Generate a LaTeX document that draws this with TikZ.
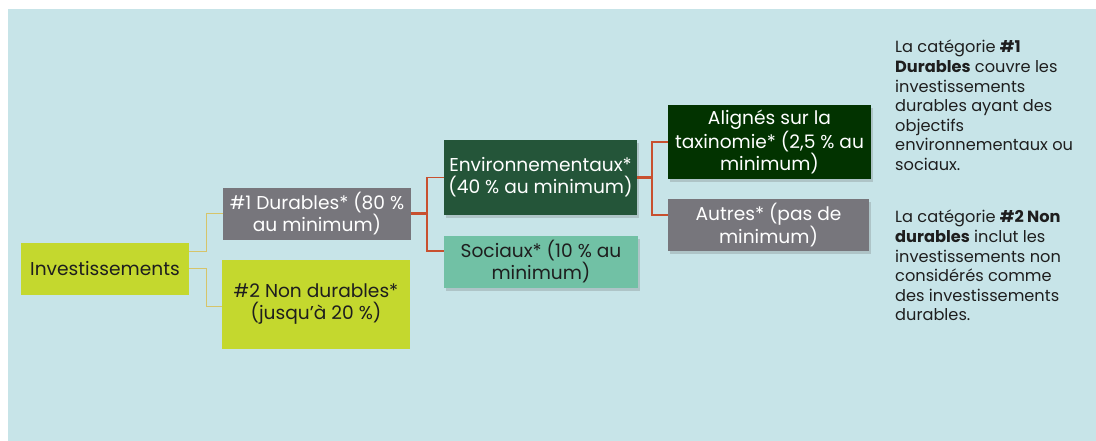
\documentclass[tikz,border=0pt]{standalone}
\usepackage{fontspec}
\setmainfont{Poppins}
\usetikzlibrary{positioning,shadows}
\definecolor{bgblue}{HTML}{C7E4E8}
\definecolor{lime}{HTML}{C4D82E}
\definecolor{greybox}{HTML}{77767C}
\definecolor{envgreen}{HTML}{245539}
\definecolor{socgreen}{HTML}{71C1A5}
\definecolor{taxgreen}{HTML}{023300}
\definecolor{linkred}{HTML}{C8502F}
\definecolor{linktan}{HTML}{D6C46A}
\definecolor{inkdark}{HTML}{1E1E1E}
\tikzset{
	box/.style={rectangle, inner sep=1pt, align=center, font=\fontsize{18.6}{22}\selectfont},
	shade/.style={drop shadow={shadow xshift=1.5pt, shadow yshift=-3pt, opacity=0.25, fill=black!60}},
	note/.style={anchor=north west, inner sep=0pt, align=left, text=inkdark, font=\fontsize{16.2}{19.6}\selectfont},
	tanlink/.style={draw=linktan, line width=1pt},
	redlink/.style={draw=linkred, line width=1.6pt}
}
\begin{document}
\begin{tikzpicture}[x=1pt,y=-1pt]
	\useasboundingbox (0,0) rectangle (1096,441);
	\fill[white] (0,0) rectangle (1096,441);
	\fill[bgblue] (8,9) rectangle (1096,441);
	% level 0 and 1
	\node[box, fill=lime, text=inkdark, minimum width=168pt, minimum height=52pt] (inv) at (105,269) {Investissements};
	\node[box, fill=greybox, text=white, minimum width=188pt, minimum height=52pt] (dur1) at (317,214) {\#1 Durables* (80 \%\\au minimum)};
	\node[box, fill=lime, text=inkdark, minimum width=188pt, minimum height=89pt] (dur2) at (316,304.5) {\#2 Non durables*\\(jusqu’à 20 \%)};
	% level 2
	\node[box, shade, fill=envgreen, text=white, minimum width=193pt, minimum height=75pt] (env) at (540.5,177.5) {Environnementaux*\\(40 \% au minimum)};
	\node[box, shade, fill=socgreen, text=inkdark, minimum width=194pt, minimum height=52pt] (soc) at (541,262) {Sociaux* (10 \% au\\minimum)};
	% level 3
	\node[box, shade, fill=taxgreen, text=white, minimum width=203pt, minimum height=74pt] (ali) at (769.5,142) {Alignés sur la\\taxinomie* (2,5 \% au\\minimum)};
	\node[box, shade, fill=greybox, text=white, minimum width=201pt, minimum height=52pt] (aut) at (768.5,225) {Autres* (pas de\\minimum)};
	% notes
	\node[note] (note1) at (895,40) {La catégorie \textbf{\#1}\\\textbf{Durables} couvre les\\investissements\\durables ayant des\\objectifs\\environnementaux ou\\sociaux.};
	\node[note] (note2) at (895,210) {La catégorie \textbf{\#2 Non}\\\textbf{durables} inclut les\\investissements non\\considérés comme\\des investissements\\durables.};
	% connectors
	\draw[tanlink] ([yshift=18pt]inv.east) -- ++(17,0) |- (dur1.west);
	\draw[tanlink] ([yshift=1pt]inv.east) -- ++(17,0) |- ([yshift=-1.5pt]dur2.west);
	\draw[redlink, line width=3pt] (dur1.east) -- ++(16,0);
	\draw[redlink] (dur1.east) ++(16,0) |- (env.west);
	\draw[redlink] (dur1.east) ++(16,0) |- ([yshift=11pt]soc.west);
	\draw[redlink, line width=3pt] (env.east) -- ++(15,0);
	\draw[redlink] (env.east) ++(15,0) |- (ali.west);
	\draw[redlink] (env.east) ++(15,0) |- ([yshift=10pt]aut.west);
\end{tikzpicture}
\end{document}
